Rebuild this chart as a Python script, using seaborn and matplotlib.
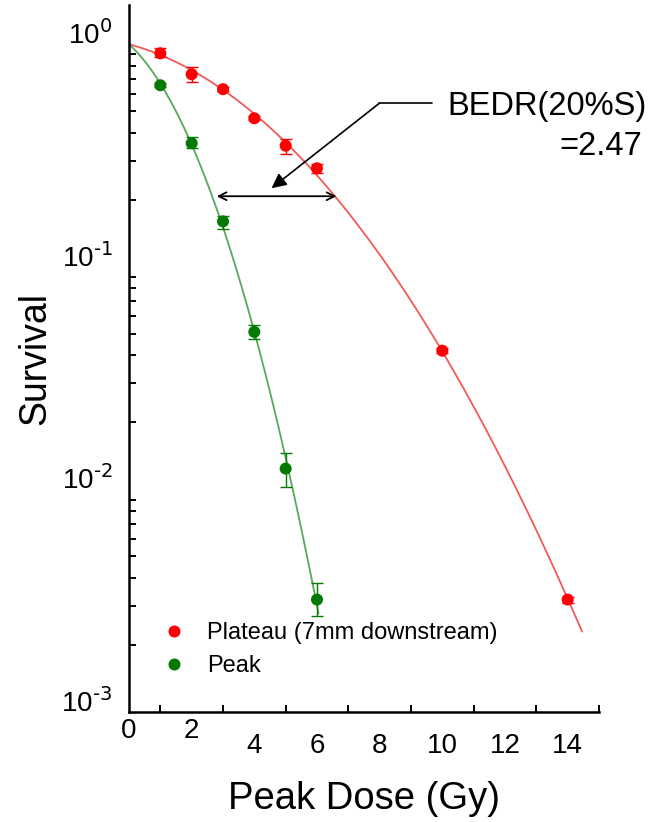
import numpy as np
import pandas as pd
import matplotlib
matplotlib.use("Agg")
import matplotlib.pyplot as plt
import seaborn as sns
from matplotlib.ticker import LogLocator, FixedLocator, FuncFormatter

# ---- data ----
plateau_dose = [1, 2, 3, 4, 5, 6, 10, 14]
plateau_surv = [0.91, 0.733, 0.628, 0.465, 0.350, 0.277, 0.042, 0.0032]
plateau_low  = [0.88, 0.675, 0.615, 0.455, 0.320, 0.263, 0.041, 0.0031]
plateau_high = [0.96, 0.788, 0.640, 0.475, 0.374, 0.291, 0.043, 0.0033]

peak_dose = [1, 2, 3, 4, 5, 6]
peak_surv = [0.654, 0.359, 0.160, 0.051, 0.0124, 0.0032]
peak_low  = [0.640, 0.341, 0.148, 0.0475, 0.0103, 0.0027]
peak_high = [0.668, 0.382, 0.170, 0.055, 0.0145, 0.0038]

plateau_fit_max = 14.46
peak_fit_max = 6.05

bedr_y = 0.2075
bedr_x_peak = 2.80
bedr_x_plateau = 6.62

series_names = ["Plateau (7mm downstream)", "Peak"]
point_colors = ["#ff0000", "#047a04"]
line_colors = ["#f25a5a", "#5aa85a"]
x_ticks = [0, 2, 4, 6, 8, 10, 12, 14]

# ---- style ----
sns.set_theme(style="white")
plt.rcParams["font.family"] = ["Liberation Sans", "DejaVu Sans"]
plt.rcParams["mathtext.default"] = "regular"
plt.rcParams["axes.unicode_minus"] = False
for k in ["text.color", "axes.labelcolor", "xtick.color", "ytick.color"]:
    plt.rcParams[k] = "black"

fig = plt.figure(figsize=(6.66, 8.22), dpi=100)
ax = fig.add_axes([129 / 666, 1 - 712 / 822, 470 / 666, (712 - 5) / 822])


def lq_fit(d, s):
    d = np.asarray(d, float)
    A = np.column_stack([d, d ** 2])
    coef, *_ = np.linalg.lstsq(A, -np.log(np.asarray(s, float)), rcond=None)
    return coef


curves = []
for name, d, s, xmax in [(series_names[0], plateau_dose, plateau_surv, plateau_fit_max),
                         (series_names[1], peak_dose, peak_surv, peak_fit_max)]:
    a, b = lq_fit(d, s)
    xx = np.linspace(0, xmax, 300)
    curves.append(pd.DataFrame({"dose": xx, "surv": np.exp(-a * xx - b * xx ** 2), "series": name}))
curve_df = pd.concat(curves)

sns.lineplot(data=curve_df, x="dose", y="surv", hue="series", palette=line_colors,
             linewidth=1.3, ax=ax, legend=False, sort=False)

# error bars
for d, s, lo, hi, c in [(plateau_dose, plateau_surv, plateau_low, plateau_high, point_colors[0]),
                        (peak_dose, peak_surv, peak_low, peak_high, point_colors[1])]:
    s = np.array(s); lo = np.array(lo); hi = np.array(hi)
    ax.errorbar(d, s, yerr=[s - lo, hi - s], fmt="none", ecolor=c,
                elinewidth=1.0, capsize=4, capthick=1.0, zorder=3)

pts = pd.DataFrame({
    "dose": plateau_dose + peak_dose,
    "surv": plateau_surv + peak_surv,
    "series": [series_names[0]] * len(plateau_dose) + [series_names[1]] * len(peak_dose),
})
sns.scatterplot(data=pts, x="dose", y="surv", hue="series", palette=point_colors,
                s=75, edgecolor="none", ax=ax, zorder=4)

ax.set_yscale("log")
ax.set_xlim(0, 15)
ax.set_ylim(1e-3, 1.5)

# spines & ticks
sns.despine(ax=ax)
for sp in ["left", "bottom"]:
    ax.spines[sp].set_linewidth(1.8)
    ax.spines[sp].set_color("black")

ax.xaxis.set_major_locator(FixedLocator(x_ticks))
ax.xaxis.set_minor_locator(FixedLocator([1, 3, 5, 7, 9, 11, 13, 15]))
ax.yaxis.set_major_locator(LogLocator(base=10, numticks=10))
ax.yaxis.set_minor_locator(LogLocator(base=10, subs=np.arange(2, 10), numticks=20))


def pow_fmt(v, pos):
    e = int(round(np.log10(v)))
    return r"$10^{\text{%d}}$" % e


ax.yaxis.set_major_formatter(FuncFormatter(pow_fmt))

ax.tick_params(axis="both", which="major", direction="in", length=10, width=1.6,
               color="black", labelsize=20, labelcolor="black")
ax.tick_params(axis="both", which="minor", direction="in", length=5, width=1.4,
               color="black")
ax.tick_params(axis="y", which="major", pad=12)
ax.tick_params(axis="y", which="minor", left=True)
ax.tick_params(axis="x", which="minor", bottom=True)

ax.set_xticks(x_ticks)
ax.set_xticklabels([str(t) for t in x_ticks])
for i, t in enumerate(ax.xaxis.get_major_ticks()):
    t.set_pad(4 if i < 2 else 15)

for lab in ax.get_yticklabels():
    lab.set_verticalalignment("baseline")

ax.set_xlabel("Peak Dose (Gy)", fontsize=27.5, labelpad=16, color="black")
ax.set_ylabel("Survival", fontsize=27, color="black")
ax.yaxis.set_label_coords(-0.162, 0.5)

# legend
leg = ax.legend(loc="upper left", bbox_to_anchor=(0.025, 0.14), frameon=False,
                fontsize=17, handletextpad=0.4, labelspacing=0.45, borderaxespad=0,
                markerscale=1.0)
for t in leg.get_texts():
    t.set_color("black")

# annotation: double arrow at 20% survival
ax.annotate("", xy=(bedr_x_peak, bedr_y), xytext=(bedr_x_plateau, bedr_y),
            arrowprops=dict(arrowstyle="<->", color="black", lw=1.3,
                            mutation_scale=14, shrinkA=0, shrinkB=0))
# callout line
ax.plot([9.68, 7.99], [0.543, 0.543], color="black", lw=1.2)
ax.annotate("", xy=(4.55, 0.2255), xytext=(7.99, 0.543),
            arrowprops=dict(arrowstyle="-|>", color="black", lw=1.2,
                            mutation_scale=22, shrinkA=0, shrinkB=0))
ax.text(10.16, 0.527, "BEDR(20%S)", fontsize=23.5, ha="left", va="center",
        color="black", clip_on=False)
ax.text(16.37, 0.348, "=2.47", fontsize=23.5, ha="right", va="center",
        color="black", clip_on=False)

fig.savefig("out.png", dpi=100)
